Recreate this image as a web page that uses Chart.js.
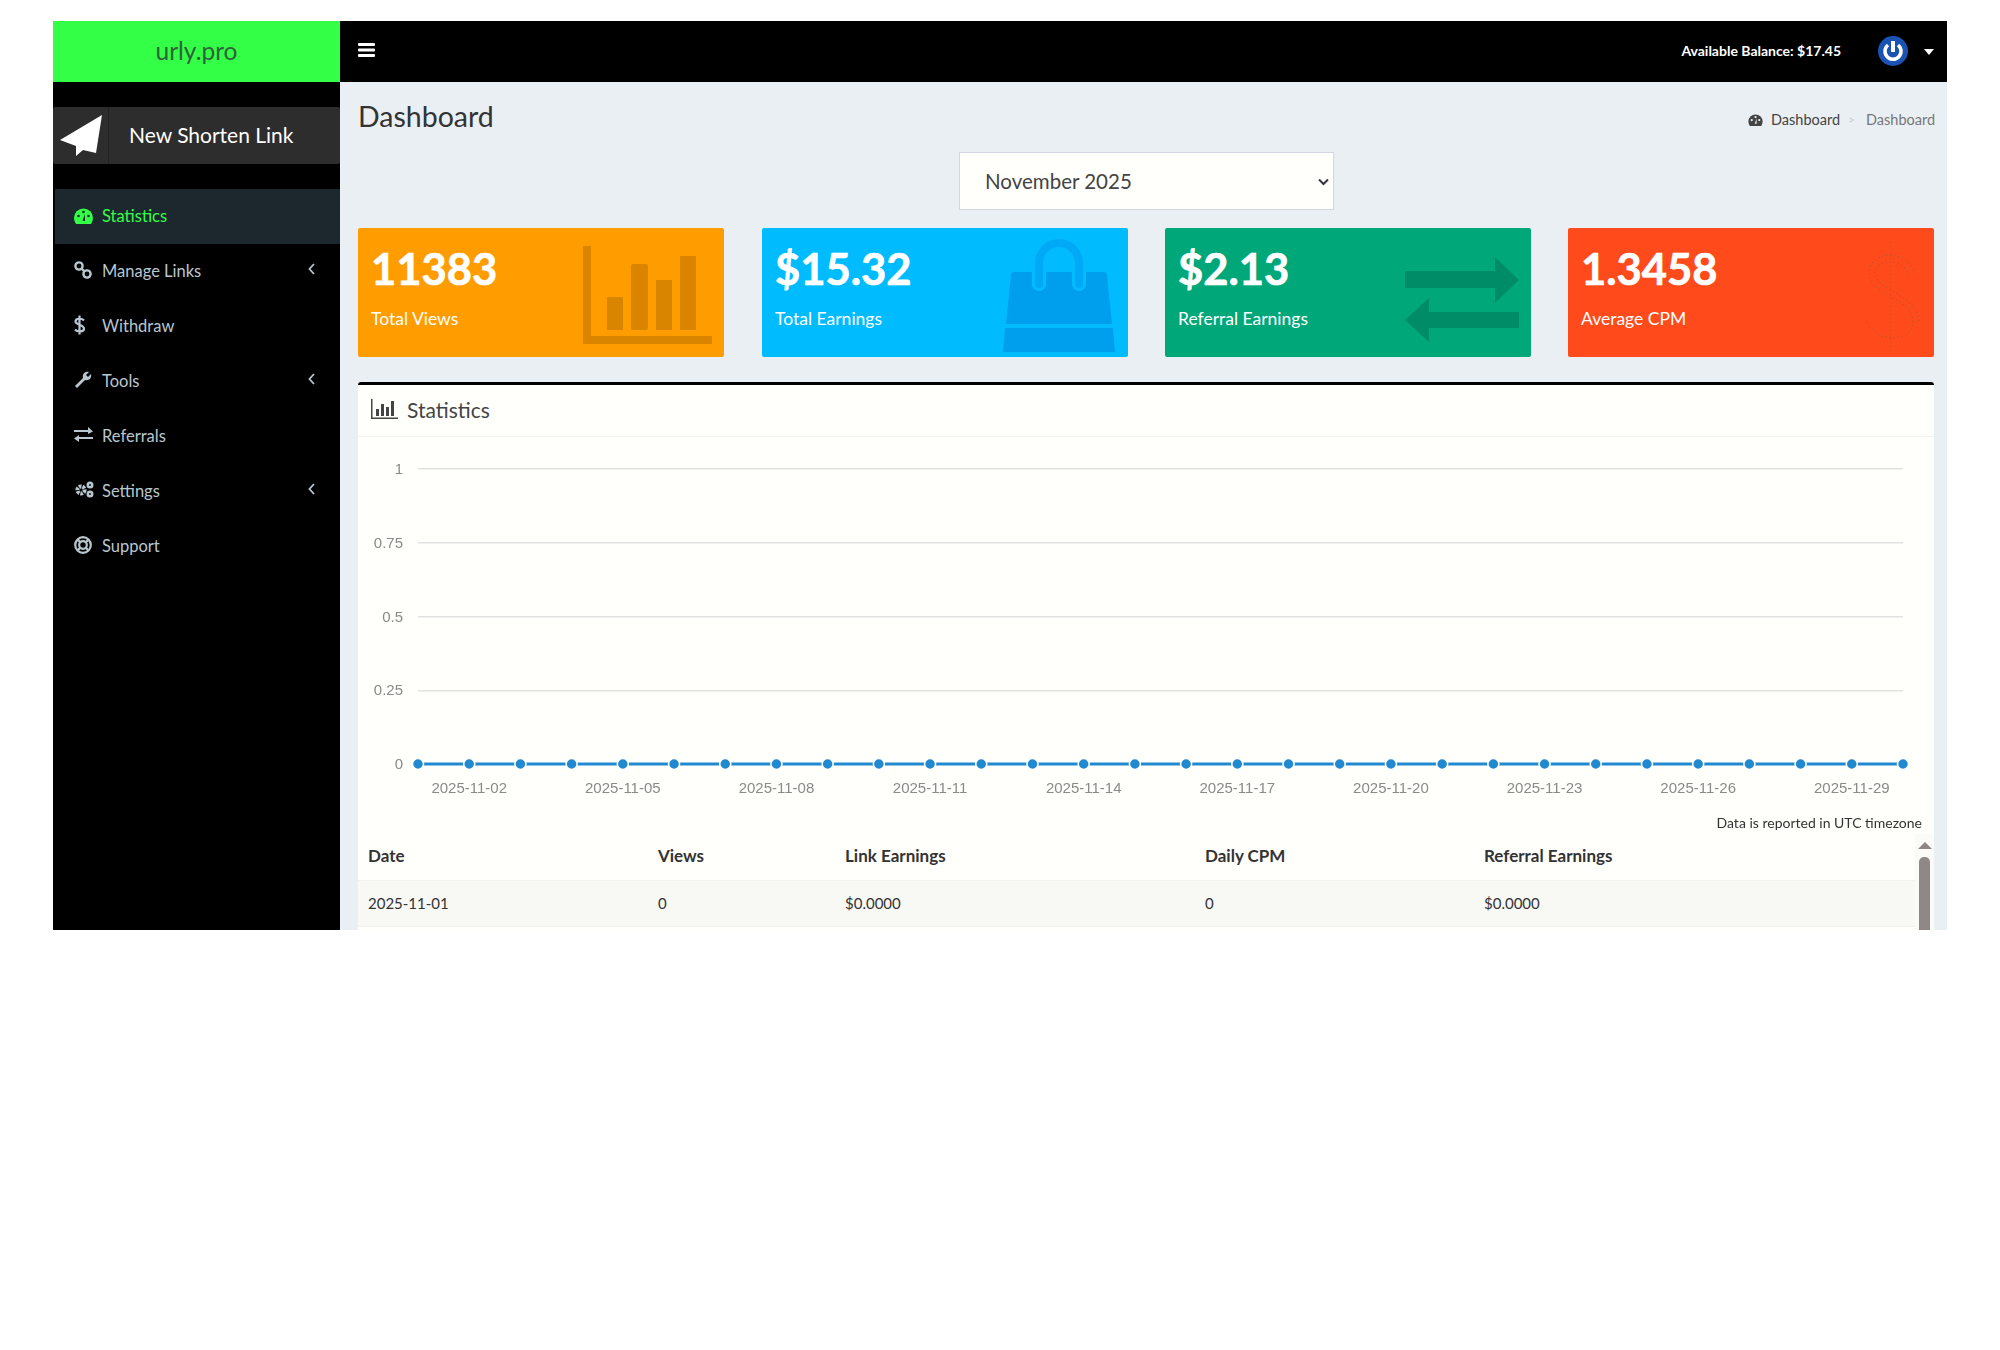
<!DOCTYPE html>
<html>
<head>
<meta charset="utf-8">
<title>Dashboard</title>
<script src="https://cdn.jsdelivr.net/npm/chart.js@4/dist/chart.umd.min.js"></script>
<style>
html, body { margin: 0; padding: 0; background: #fff; width: 2000px; height: 1350px; overflow: hidden; }
body { font-family: Lato, "Noto Sans", sans-serif; color: #333; }
.abs { position: absolute; white-space: nowrap; }
.mid { transform: translateY(-50%); }
.nav { left: 102px; font-size: 16.5px; color: #b8c7ce; }
.ic { position: absolute; overflow: visible; }
.card { position: absolute; top: 228px; height: 129px; width: 366px; border-radius: 2px; color: #fff; }
.num { position: absolute; left: 13px; top: 40px; transform: translateY(-50%); font-size: 43.5px; font-weight: 700; -webkit-text-stroke: 0.7px #fff; white-space: nowrap; }
.lbl { position: absolute; left: 13px; top: 90px; transform: translateY(-50%); font-size: 17.5px; white-space: nowrap; }
.th { font-size: 17px; font-weight: 700; color: #333; top: 855px; }
.td { font-size: 15px; color: #333; top: 903px; }
select { position: absolute; left: 959px; top: 152px; width: 375px; height: 58px; background: #fffffc url("data:image/svg+xml,%3Csvg xmlns='http://www.w3.org/2000/svg' width='11' height='8'%3E%3Cpath d='M1 1.500L5.500 6L10 1.500' fill='none' stroke='%23334' stroke-width='2'/%3E%3C/svg%3E") no-repeat 358px 25px; border: 1px solid #d2d6de; color: #444; font-family: Lato, sans-serif; font-size: 20.5px; padding: 0 0 0 25px; border-radius: 0; appearance: none; box-sizing: border-box; }
</style>
</head>
<body>
<!-- frame -->
<div class="abs" style="left:53px;top:21px;width:287px;height:61px;background:#33ff46"></div>
<div class="abs" style="left:340px;top:21px;width:1607px;height:61px;background:#000"></div>
<div class="abs" style="left:53px;top:82px;width:287px;height:848px;background:#000"></div>
<div class="abs" style="left:340px;top:82px;width:1607px;height:848px;background:#eaeff3"></div>

<!-- top bar -->
<div class="abs mid" style="left:53px;width:287px;top:50px;text-align:center;font-size:24.5px;color:#2f6238">urly.pro</div>
<svg class="ic" style="left:358px;top:43px" width="17" height="14"><rect width="17" height="3" y="0" rx="1" fill="#fff"/><rect width="17" height="3" y="5.500" rx="1" fill="#fff"/><rect width="17" height="3" y="11" rx="1" fill="#fff"/></svg>
<div class="abs mid" style="right:159px;top:50px;font-size:14px;font-weight:700;color:#fff">Available Balance: $17.45</div>
<svg class="ic" style="left:1878px;top:36px" width="30" height="30" viewBox="0 0 30 30"><circle cx="15" cy="15" r="15" fill="#1b53b5"/><path d="M10 9a8 8 0 1 0 10 0" fill="none" stroke="#fff" stroke-width="3.500"/><rect x="13" y="5" width="4" height="11" fill="#fff"/></svg>
<svg class="ic" style="left:1924px;top:49px" width="10" height="6"><polygon points="0,0 10,0 5,6" fill="#fff"/></svg>

<!-- sidebar -->
<div class="abs" style="left:53px;top:107px;width:287px;height:57px;background:#2d2d2d;border-radius:2px"></div>
<div class="abs" style="left:108px;top:107px;width:1px;height:57px;background:#222"></div>
<svg class="ic" style="left:0;top:0" width="120" height="170"><polygon points="102,115 60,140 76,146 76,156 83,150 96,153" fill="#fff"/></svg>
<div class="abs mid" style="left:129px;top:134px;font-size:21px;color:#fff">New Shorten Link</div>

<div class="abs" style="left:55px;top:189px;width:285px;height:55px;background:#1c282e"></div>
<svg class="ic" style="left:74px;top:208px" width="19" height="16" viewBox="0 0 19 16"><path d="M2 16Q0 13 0 10a9.500 9.500 0 0 1 19 0Q19 13 17 16z" fill="#33ff46"/><circle cx="4.500" cy="8" r="1.300" fill="#1c282e"/><circle cx="9.500" cy="4" r="1.300" fill="#1c282e"/><circle cx="14.500" cy="8" r="1.300" fill="#1c282e"/><path d="M11 6L8.500 13h2.500z" fill="#1c282e"/></svg>
<div class="abs mid nav" style="top:216px;color:#33ff46">Statistics</div>

<svg class="ic" style="left:74px;top:261px" width="18" height="18" viewBox="0 0 18 18" fill="none" stroke="#b8c7ce" stroke-width="2.400"><circle cx="5" cy="5" r="3.600"/><circle cx="13" cy="13" r="3.600"/><path d="M7 7l4 4"/></svg>
<div class="abs mid nav" style="top:271px">Manage Links</div>
<svg class="ic" style="left:308px;top:263px" width="7" height="12" fill="none" stroke="#b8c7ce" stroke-width="1.800"><path d="M6 1L1.500 6L6 11"/></svg>

<svg class="ic" style="left:74px;top:315px" width="11" height="20" viewBox="0 0 11 20" fill="none" stroke="#b8c7ce" stroke-width="2.200"><path d="M10 5.500C8 3 1.500 3 1.500 6.500S10 9.500 10 13.500S3 17 1 14.500M5.500 0.500v19"/></svg>
<div class="abs mid nav" style="top:326px">Withdraw</div>

<svg class="ic" style="left:74px;top:371px" width="18" height="18" viewBox="0 0 18 18"><path d="M1 15L9 7C8 3 11 0 15 1L12 4l2 2 3-3C18 7 15 10 11 9L3 17z" fill="#b8c7ce"/></svg>
<div class="abs mid nav" style="top:381px">Tools</div>
<svg class="ic" style="left:308px;top:373px" width="7" height="12" fill="none" stroke="#b8c7ce" stroke-width="1.800"><path d="M6 1L1.500 6L6 11"/></svg>

<svg class="ic" style="left:74px;top:427px" width="19" height="15" viewBox="0 0 19 15"><path d="M0 3h14V0l5 4.500L14 7V5H0zM19 10H5V8l-5 3.500L5 15v-3h14z" fill="#b8c7ce"/></svg>
<div class="abs mid nav" style="top:436px">Referrals</div>

<svg class="ic" style="left:74px;top:481px" width="20" height="17" viewBox="0 0 20 17" fill="none" stroke="#b8c7ce"><circle cx="7" cy="9" r="3.600" stroke-width="4" stroke-dasharray="2.600 1"/><circle cx="16" cy="4" r="2.200" stroke-width="2.600"/><circle cx="16" cy="13" r="2.200" stroke-width="2.600"/></svg>
<div class="abs mid nav" style="top:491px">Settings</div>
<svg class="ic" style="left:308px;top:483px" width="7" height="12" fill="none" stroke="#b8c7ce" stroke-width="1.800"><path d="M6 1L1.500 6L6 11"/></svg>

<svg class="ic" style="left:74px;top:536px" width="18" height="18" viewBox="0 0 18 18" fill="none" stroke="#b8c7ce"><circle cx="9" cy="9" r="7.800" stroke-width="2.200"/><circle cx="9" cy="9" r="3.800" stroke-width="2.200"/><path d="M3.500 3.500l3 3M14.500 3.500l-3 3M3.500 14.500l3-3M14.500 14.500l-3-3" stroke-width="2.400"/></svg>
<div class="abs mid nav" style="top:546px">Support</div>

<!-- content head -->
<div class="abs mid" style="left:358px;top:116px;font-size:28.5px;color:#333">Dashboard</div>
<svg class="ic" style="left:1748px;top:114px" width="15" height="12" viewBox="0 0 19 16"><path d="M2 16Q0 13 0 10a9.500 9.500 0 0 1 19 0Q19 13 17 16z" fill="#444"/><circle cx="4.500" cy="8" r="1.500" fill="#eaeff3"/><circle cx="9.500" cy="4" r="1.500" fill="#eaeff3"/><circle cx="14.500" cy="8" r="1.500" fill="#eaeff3"/><path d="M11 6L8.500 13h2.500z" fill="#eaeff3"/></svg>
<div class="abs mid" style="left:1771px;top:119px;font-size:14.5px;color:#444">Dashboard</div>
<div class="abs mid" style="left:1848px;top:119px;font-size:12px;color:#ccc">&gt;</div>
<div class="abs mid" style="left:1866px;top:119px;font-size:14.5px;color:#777">Dashboard</div>

<select><option>November 2025</option></select>

<!-- stat cards -->
<div class="card" style="left:358px;background:#ff9c00">
  <div class="num">11383</div><div class="lbl">Total Views</div>
  <svg class="ic" style="left:225px;top:18px" width="129" height="98" viewBox="0 0 129 98" fill="#d98500"><path d="M0 0h8v90h121v8H0z"/><rect x="24" y="51" width="16" height="33"/><rect x="48" y="18" width="17" height="66" rx="2"/><rect x="73" y="34" width="16" height="50"/><rect x="97" y="10" width="16" height="74"/></svg>
</div>
<div class="card" style="left:762px;background:#00bcff">
  <div class="num">$15.32</div><div class="lbl">Total Earnings</div>
  <svg class="ic" style="left:0;top:0" width="366" height="129" viewBox="0 0 366 129">
    <path d="M249 47q0-3 3-3H342q3 0 3 3L350 96H244z" fill="#009fee"/>
    <path d="M243 100H351L353 124H241z" fill="#009fee"/>
    <path d="M277 56V35a20 20 0 0 1 40 0V56" fill="none" stroke="#00bcff" stroke-width="14" stroke-linecap="round"/>
    <path d="M277 56V35a20 20 0 0 1 40 0V56" fill="none" stroke="#00a9f6" stroke-width="8" stroke-linecap="round"/>
  </svg>
</div>
<div class="card" style="left:1165px;background:#00a779">
  <div class="num">$2.13</div><div class="lbl">Referral Earnings</div>
  <svg class="ic" style="left:240px;top:29px" width="115" height="86" viewBox="0 0 115 86" fill="#008c66"><path d="M0 14h90V0l24 23-24 23V31H0zM114 55H24V41L0 63l24 22V71h90z"/></svg>
</div>
<div class="card" style="left:1568px;background:#ff4a1c">
  <div class="num">1.3458</div><div class="lbl">Average CPM</div>
  <svg class="ic" style="left:295px;top:14px" width="56" height="110" viewBox="0 0 56 110" fill="none" stroke="#a05a30" stroke-opacity=".7" stroke-width="1.200" stroke-dasharray="1 3"><path d="M50 28C44 8 8 8 6 30c-2 24 44 24 44 50 0 20-36 22-46 0M28 0v110"/><path d="M46 33C40 16 14 16 12 30c-2 18 44 22 44 50"/></svg>
</div>

<!-- statistics box -->
<div class="abs" style="left:358px;top:382px;width:1576px;height:545px;background:#fffffc;border-top:3px solid #000;border-radius:3px 3px 0 0"></div>
<div class="abs" style="left:358px;top:436px;width:1576px;height:1px;background:#f4f4f1"></div>
<svg class="ic" style="left:371px;top:399px" width="27" height="20" viewBox="0 0 27 20" fill="#444"><path d="M0 0h1.500v18.500H27V20H0z"/><rect x="5" y="10" width="3" height="7"/><rect x="10" y="5" width="3" height="12"/><rect x="15" y="8" width="3" height="9"/><rect x="20" y="2" width="3" height="15"/></svg>
<div class="abs mid" style="left:407px;top:409px;font-size:21px;color:#444">Statistics</div>

<div style="position:absolute;left:358px;top:440px;width:1576px;height:380px">
  <canvas id="statsChart" width="1576" height="380"></canvas>
</div>

<div class="abs mid" style="right:78px;top:822px;font-size:14px;color:#333">Data is reported in UTC timezone</div>

<!-- table -->
<div class="abs" style="left:358px;top:880px;width:1557px;height:47px;background:#f8f8f5;border-top:1px solid #f1f1ee;border-bottom:1px solid #f1f1ee;box-sizing:border-box"></div>
<div class="abs mid th" style="left:368px">Date</div>
<div class="abs mid th" style="left:658px">Views</div>
<div class="abs mid th" style="left:845px">Link Earnings</div>
<div class="abs mid th" style="left:1205px">Daily CPM</div>
<div class="abs mid th" style="left:1484px">Referral Earnings</div>
<div class="abs mid td" style="left:368px">2025-11-01</div>
<div class="abs mid td" style="left:658px">0</div>
<div class="abs mid td" style="left:845px">$0.0000</div>
<div class="abs mid td" style="left:1205px">0</div>
<div class="abs mid td" style="left:1484px">$0.0000</div>
<!-- scrollbar -->
<div class="abs" style="left:1915px;top:834px;width:19px;height:96px;background:#fafaf7"></div>
<svg class="ic" style="left:1918px;top:842px" width="14" height="7"><polygon points="0,7 14,7 7,0" fill="#8f8787"/></svg>
<div class="abs" style="left:1919px;top:857px;width:11px;height:73px;background:#908787;border-radius:5px 5px 0 0"></div>

<script>
const dates = [
  "2025-11-01", "2025-11-02", "2025-11-03", "2025-11-04", "2025-11-05",
  "2025-11-06", "2025-11-07", "2025-11-08", "2025-11-09", "2025-11-10",
  "2025-11-11", "2025-11-12", "2025-11-13", "2025-11-14", "2025-11-15",
  "2025-11-16", "2025-11-17", "2025-11-18", "2025-11-19", "2025-11-20",
  "2025-11-21", "2025-11-22", "2025-11-23", "2025-11-24", "2025-11-25",
  "2025-11-26", "2025-11-27", "2025-11-28", "2025-11-29", "2025-11-30"
];
const views = [
  0, 0, 0, 0, 0, 0, 0, 0, 0, 0,
  0, 0, 0, 0, 0, 0, 0, 0, 0, 0,
  0, 0, 0, 0, 0, 0, 0, 0, 0, 0
];
const xTickLabels = [
  "2025-11-02", "2025-11-05", "2025-11-08", "2025-11-11", "2025-11-14",
  "2025-11-17", "2025-11-20", "2025-11-23", "2025-11-26", "2025-11-29"
];
const yTicks = [0, 0.25, 0.5, 0.75, 1];

const tickFont = { family: "'Liberation Sans', Arial, sans-serif", size: 15 };

new Chart(document.getElementById("statsChart"), {
  type: "line",
  data: {
    labels: dates,
    datasets: [
      {
        label: "Views",
        data: views,
        borderColor: "#2189cf",
        borderWidth: 2.8,
        backgroundColor: "#2189cf",
        pointRadius: 5.5,
        pointBorderColor: "#fffffc",
        pointBorderWidth: 1.5,
        clip: false,
      },
    ],
  },
  options: {
    responsive: false,
    animation: false,
    devicePixelRatio: 1,
    layout: { padding: { left: 0, right: 31, top: 29, bottom: 0 } },
    plugins: { legend: { display: false }, tooltip: { enabled: false } },
    scales: {
      x: {
        offset: false,
        grid: { display: false },
        border: { display: false },
        afterFit: (scale) => { scale.height = 56; },
        ticks: {
          autoSkip: false,
          maxRotation: 0,
          minRotation: 0,
          padding: 8,
          color: "#8a8a8a",
          font: tickFont,
          callback: (value, index) => (xTickLabels.includes(dates[index]) ? dates[index] : ""),
        },
      },
      y: {
        min: 0,
        max: 1,
        afterBuildTicks: (scale) => { scale.ticks = yTicks.map((v) => ({ value: v })); },
        afterFit: (scale) => { scale.width = 60; },
        grid: { color: "#e2e2e2", lineWidth: 1.5, drawTicks: false },
        border: { display: false },
        ticks: { padding: 15, labelOffset: 1, color: "#8a8a8a", font: tickFont, callback: (value) => String(value) },
      },
    },
  },
});
</script>
</body>
</html>
